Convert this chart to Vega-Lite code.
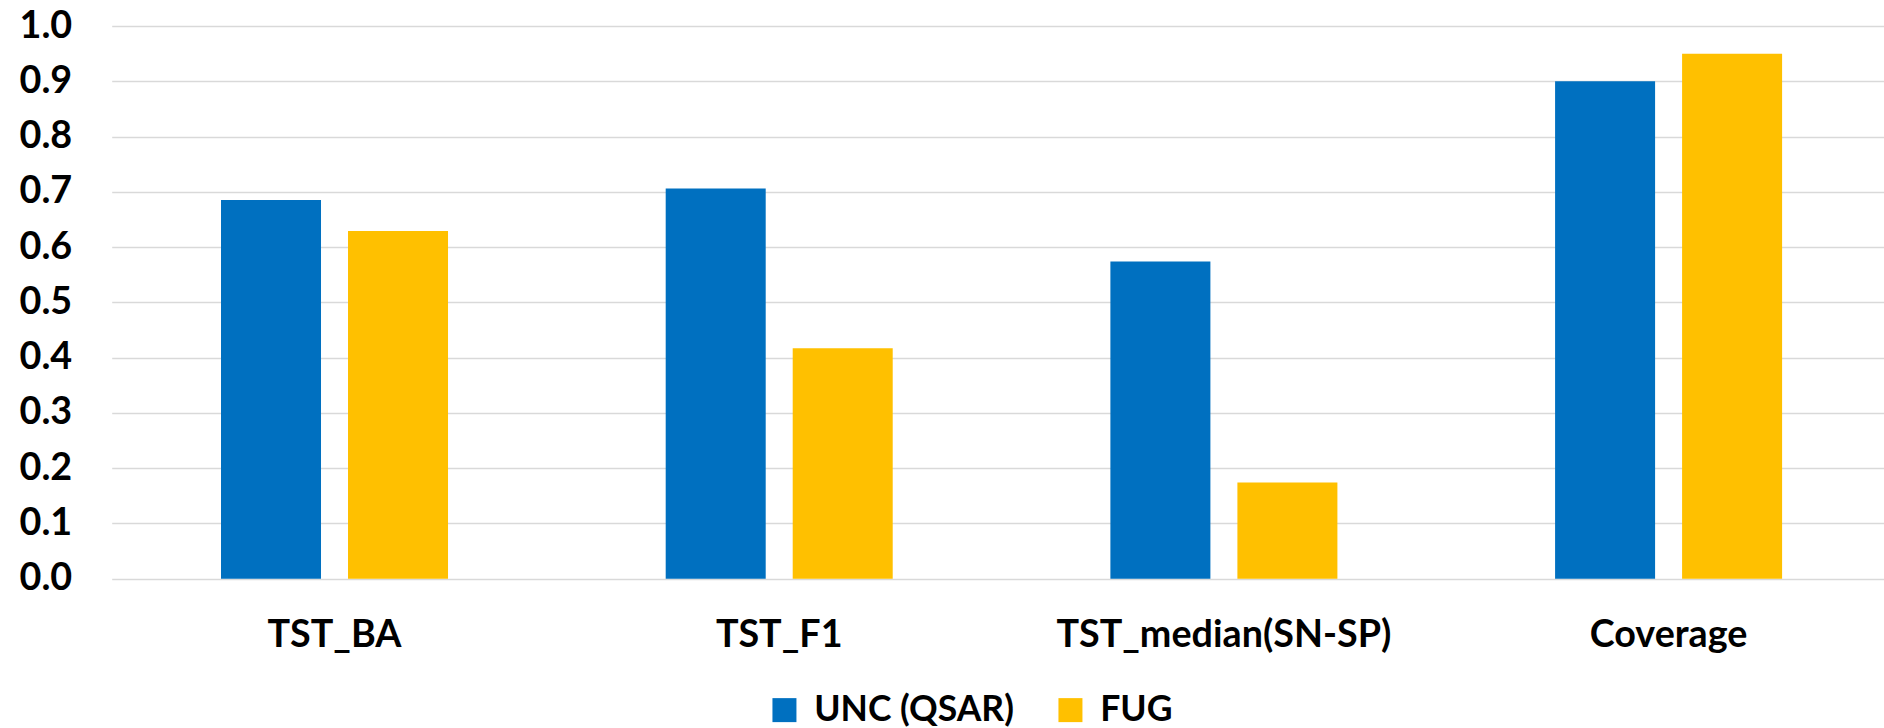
{
  "$schema": "https://vega.github.io/schema/vega-lite/v6.json",
  "width": 1772.3,
  "height": 552.7,
  "autosize": {"type": "none"},
  "padding": {"left": 111.7, "top": 26, "right": 0, "bottom": 149.3},
  "background": "white",
  "config": {"view": {"stroke": null}, "font": "Lato"},
  "data": {
    "values": [
      {"metric": "TST_BA", "model": "UNC (QSAR)", "value": 0.685},
      {"metric": "TST_BA", "model": "FUG", "value": 0.629},
      {"metric": "TST_F1", "model": "UNC (QSAR)", "value": 0.706},
      {"metric": "TST_F1", "model": "FUG", "value": 0.417},
      {"metric": "TST_median(SN-SP)", "model": "UNC (QSAR)", "value": 0.574},
      {"metric": "TST_median(SN-SP)", "model": "FUG", "value": 0.174},
      {"metric": "Coverage", "model": "UNC (QSAR)", "value": 0.9},
      {"metric": "Coverage", "model": "FUG", "value": 0.95}
    ]
  },
  "mark": {"type": "bar"},
  "encoding": {
    "x": {
      "field": "metric",
      "type": "nominal",
      "sort": ["TST_BA", "TST_F1", "TST_median(SN-SP)", "Coverage"],
      "scale": {"range": [0, 1779.7], "paddingInner": 0.4895, "paddingOuter": 0.2458},
      "axis": {
        "title": null,
        "labelAngle": 0,
        "labelFont": "Lato",
        "labelFontWeight": "bold",
        "labelFontSize": 37.7,
        "labelColor": "black",
        "labelBaseline": "alphabetic",
        "labelPadding": 68,
        "labelLimit": 0,
        "ticks": false,
        "domain": false,
        "grid": false
      }
    },
    "xOffset": {
      "field": "model",
      "type": "nominal",
      "sort": ["UNC (QSAR)", "FUG"],
      "scale": {"paddingInner": 0.2126, "paddingOuter": 0}
    },
    "y": {
      "field": "value",
      "type": "quantitative",
      "scale": {"domain": [0, 1], "nice": false},
      "axis": {
        "title": null,
        "values": [0, 0.1, 0.2, 0.3, 0.4, 0.5, 0.6, 0.7, 0.8, 0.9, 1.0],
        "format": ".1f",
        "grid": true,
        "gridColor": "#d9d9d9",
        "gridWidth": 1.5,
        "domain": false,
        "ticks": false,
        "labelPadding": 40,
        "labelFont": "Lato",
        "labelFontWeight": "bold",
        "labelFontSize": 37.7,
        "labelColor": "black"
      }
    },
    "color": {
      "field": "model",
      "type": "nominal",
      "sort": ["UNC (QSAR)", "FUG"],
      "scale": {"domain": ["UNC (QSAR)", "FUG"], "range": ["#0070C0", "#FFC000"]},
      "legend": {
        "title": null,
        "orient": "none",
        "direction": "horizontal",
        "legendX": 655,
        "legendY": 666,
        "symbolType": "square",
        "symbolSize": 576,
        "symbolOpacity": 1,
        "symbolStrokeWidth": 0,
        "labelFont": "Lato",
        "labelFontSize": 35.5,
        "labelFontWeight": "bold",
        "labelColor": "black",
        "labelOffset": 12,
        "labelLimit": 0,
        "columnPadding": 38
      }
    }
  }
}
